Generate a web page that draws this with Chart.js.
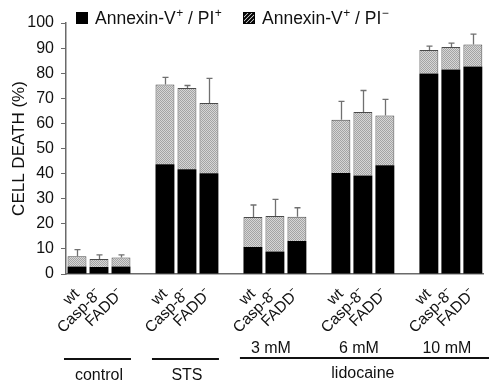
<!DOCTYPE html>
<html><head><meta charset="utf-8">
<script src="https://cdn.jsdelivr.net/npm/chart.js@4.4.1/dist/chart.umd.min.js"></script>
<style>html,body{margin:0;padding:0;background:#fff}#wrap{width:489px;height:383px}</style>
</head><body><div id="wrap"><canvas id="c" width="489" height="383"></canvas></div>
<script>
const cellLines = ['wt', 'Casp-8\u207B', 'FADD\u207B'];
const groupNames = ['control', 'STS', '3 mM', '6 mM', '10 mM'];
const drugName = 'lidocaine';
const legendLabels = ['Annexin-V', 'Annexin-V'];
const yTicks = [0, 10, 20, 30, 40, 50, 60, 70, 80, 90, 100];
// Annexin-V+/PI+ (black), per group: wt, Casp-8-, FADD-
const piPos = [3.0, 2.8, 3.0, 43.7, 41.7, 40.1, 10.8, 9.0, 13.1, 40.2, 39.2, 43.3, 79.9, 81.5, 82.7];
// Annexin-V+/PI- (hatched)
const piNeg = [4.1, 3.2, 3.6, 31.8, 32.4, 28.0, 11.9, 14.1, 9.7, 21.3, 25.3, 19.8, 9.3, 8.9, 8.7];
// upper error (SD) on total
const errUp = [2.6, 1.6, 1.0, 2.8, 1.0, 9.8, 4.8, 6.6, 3.6, 7.3, 8.6, 6.5, 1.6, 1.6, 4.2];

const labels = [], dPos = [], dNeg = [], dErr = [];
groupNames.forEach((g, gi) => {
  cellLines.forEach((c, ci) => {
    const k = gi * 3 + ci;
    labels.push(c); dPos.push(piPos[k]); dNeg.push(piNeg[k]); dErr.push(errUp[k]);
  });
  if (gi < groupNames.length - 1) { labels.push(''); dPos.push(null); dNeg.push(null); dErr.push(null); }
});

function makeDots() {
  const p = document.createElement('canvas'); p.width = 2; p.height = 2;
  const x = p.getContext('2d');
  x.fillStyle = '#d6d6d6'; x.fillRect(0, 0, 2, 2);
  x.fillStyle = '#a4a4a4'; x.fillRect(0, 0, 1, 1); x.fillRect(1, 1, 1, 1);
  return x.createPattern(p, 'repeat');
}
const ctx0 = document.getElementById('c').getContext('2d');
const dots = makeDots();
const FONT = "'Liberation Sans', Arial, sans-serif";

const extras = {
  id: 'extras',
  afterDatasetsDraw(chart) {
    const ctx = chart.ctx, y = chart.scales.y;
    const meta = chart.getDatasetMeta(1);
    ctx.save();
    ctx.strokeStyle = '#707070'; ctx.lineWidth = 1.3;
    dErr.forEach((e, i) => {
      if (e == null) return;
      const el = meta.data[i];
      const x = Math.round(el.x) + 0.5;
      const tot = dPos[i] + dNeg[i];
      const y0 = y.getPixelForValue(tot), y1 = y.getPixelForValue(tot + e);
      ctx.beginPath(); ctx.moveTo(x, y0); ctx.lineTo(x, y1);
      ctx.moveTo(x - 3, y1); ctx.lineTo(x + 3, y1); ctx.stroke();
    });
    ctx.restore();
  },
  afterDraw(chart) {
    const ctx = chart.ctx;
    ctx.save();
    // legend
    ctx.fillStyle = '#000'; ctx.fillRect(76, 12, 12, 12);
    ctx.save();
    ctx.beginPath(); ctx.rect(243, 12, 12, 12); ctx.clip();
    ctx.fillStyle = '#fff'; ctx.fillRect(243, 12, 12, 12);
    ctx.strokeStyle = '#000'; ctx.lineWidth = 2.2;
    for (let k = -12; k < 24; k += 4) { ctx.beginPath(); ctx.moveTo(243 + k, 24); ctx.lineTo(243 + k + 12, 12); ctx.stroke(); }
    ctx.restore();
    ctx.strokeStyle = '#000'; ctx.lineWidth = 1; ctx.strokeRect(243.5, 12.5, 11, 11);
    const drawLeg = (x, sign2) => {
      ctx.fillStyle = '#111'; ctx.textBaseline = 'alphabetic'; ctx.textAlign = 'left';
      ctx.font = '17.5px ' + FONT;
      ctx.fillText(legendLabels[0], x, 24);
      let w = ctx.measureText(legendLabels[0]).width + 0.5;
      ctx.font = '12px ' + FONT; ctx.fillText('+', x + w, 17);
      w += ctx.measureText('+').width;
      ctx.font = '17.5px ' + FONT; ctx.fillText(' / PI', x + w, 24);
      w += ctx.measureText(' / PI').width + 0.5;
      ctx.font = '12px ' + FONT; ctx.fillText(sign2, x + w, 17);
    };
    drawLeg(95, '+');
    drawLeg(262, '\u2212');
    // group annotations
    const meta = chart.getDatasetMeta(0);
    const gx = gi => [meta.data[gi * 4].x, meta.data[gi * 4 + 2].x];
    ctx.strokeStyle = '#111'; ctx.lineWidth = 2;
    ctx.fillStyle = '#111'; ctx.textAlign = 'center'; ctx.font = '16px ' + FONT;
    for (let gi = 0; gi < 2; gi++) {
      const [a, b] = gx(gi);
      ctx.beginPath(); ctx.moveTo(a - 13, 359); ctx.lineTo(b + 10, 359); ctx.stroke();
      ctx.fillText(groupNames[gi], (a + b) / 2, 380);
    }
    for (let gi = 2; gi < 5; gi++) {
      const [a, b] = gx(gi);
      ctx.fillText(groupNames[gi], (a + b) / 2 - 4, 353);
    }
    const [a2] = gx(2);
    ctx.beginPath(); ctx.moveTo(a2 - 13, 358); ctx.lineTo(chart.width, 358); ctx.stroke();
    ctx.fillText(drugName, (gx(3)[0] + gx(3)[1]) / 2, 378);
    ctx.restore();
  }
};

new Chart(ctx0, {
  type: 'bar',
  data: {
    labels: labels,
    datasets: [
      { label: 'Annexin-V+ / PI+', data: dPos, backgroundColor: '#000', borderWidth: 0, stack: 's' },
      { label: 'Annexin-V+ / PI-', data: dNeg, backgroundColor: dots, borderColor: '#4a4a4a', borderWidth: 1, stack: 's' }
    ]
  },
  options: {
    responsive: false, animation: false,
    devicePixelRatio: 1,
    layout: { padding: { top: 23, right: 0, bottom: 0, left: 0 } },
    datasets: { bar: { barPercentage: 0.86, categoryPercentage: 1 } },
    plugins: { legend: { display: false }, tooltip: { enabled: false } },
    scales: {
      x: {
        stacked: true, offset: true,
        grid: { display: false },
        border: { display: true, color: '#6a6a6a', width: 1.5 },
        ticks: { minRotation: 45, maxRotation: 45, autoSkip: false, color: '#111', font: { size: 15.5, family: FONT }, padding: 3 },
        afterFit(s) { s.height = 109; }
      },
      y: {
        stacked: true, min: 0, max: 100,
        afterBuildTicks(s) { s.ticks = yTicks.map(v => ({ value: v })); },
        grid: { drawOnChartArea: false, tickLength: 5, color: '#6a6a6a' },
        border: { display: true, color: '#6a6a6a', width: 1.5 },
        ticks: { color: '#111', font: { size: 16, family: FONT }, padding: 7 },
        title: { display: true, text: 'CELL DEATH (%)', color: '#111', font: { size: 17, family: FONT }, padding: { top: 9, bottom: 0 } },
        afterFit(s) { s.width = 66; }
      }
    }
  },
  plugins: [extras]
});
</script></body></html>
